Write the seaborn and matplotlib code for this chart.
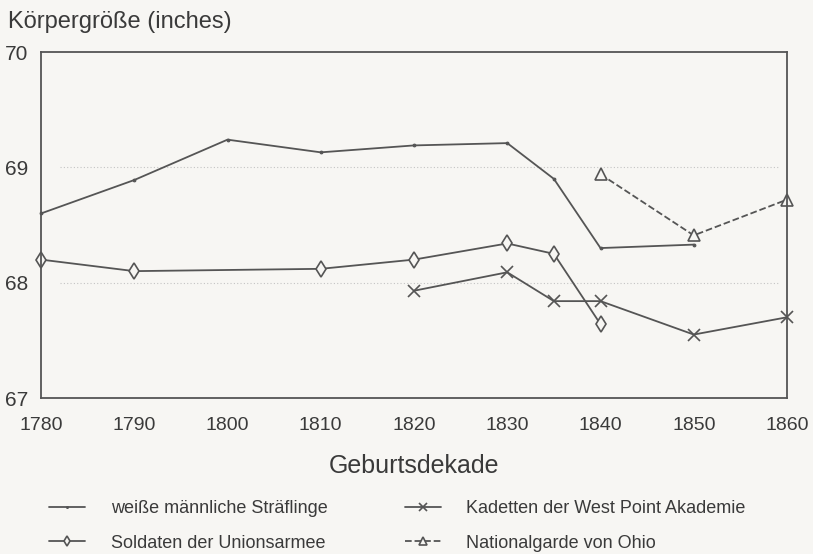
import matplotlib
matplotlib.use("Agg")
import matplotlib.pyplot as plt
import seaborn as sns
import pandas as pd

# Werte
jahre_straeflinge = [1780, 1790, 1800, 1810, 1820, 1830, 1835, 1840, 1850]
werte_straeflinge = [68.60, 68.89, 69.24, 69.13, 69.19, 69.21, 68.90, 68.30, 68.33]

jahre_soldaten = [1780, 1790, 1810, 1820, 1830, 1835, 1840]
werte_soldaten = [68.20, 68.10, 68.12, 68.20, 68.34, 68.25, 67.64]

jahre_kadetten = [1820, 1830, 1835, 1840, 1850, 1860]
werte_kadetten = [67.93, 68.09, 67.84, 67.84, 67.55, 67.70]

jahre_ohio = [1840, 1850, 1860]
werte_ohio = [68.94, 68.41, 68.72]

xticks = [1780, 1790, 1800, 1810, 1820, 1830, 1840, 1850, 1860]
yticks = [67, 68, 69, 70]

sns.set_style("white")
plt.rcParams['font.family'] = ['Liberation Sans', 'DejaVu Sans']

grau = '#555555'
text_grau = '#3a3a3a'
bg = '#f7f6f3'

fig = plt.figure(figsize=(8.13, 5.54), dpi=100, facecolor=bg)
ax = fig.add_axes([41 / 813, 1 - 398 / 554, 746 / 813, 346 / 554])
ax.set_facecolor(bg)

# schwache gepunktete Hilfslinien bei 68 und 69
for yv in [68, 69]:
    ax.plot([1782, 1859], [yv, yv], color='#c4c4c4', linestyle=(0, (1, 2)), linewidth=0.8, zorder=1)

df1 = pd.DataFrame({'jahr': jahre_straeflinge, 'wert': werte_straeflinge})
df2 = pd.DataFrame({'jahr': jahre_soldaten, 'wert': werte_soldaten})
df3 = pd.DataFrame({'jahr': jahre_kadetten, 'wert': werte_kadetten})
df4 = pd.DataFrame({'jahr': jahre_ohio, 'wert': werte_ohio})

gemeinsam = dict(ax=ax, color=grau, linewidth=1.3, markeredgecolor=grau, clip_on=False)

sns.lineplot(data=df1, x='jahr', y='wert', marker='.', markersize=4,
             label='weiße männliche Sträflinge', **gemeinsam)
sns.lineplot(data=df2, x='jahr', y='wert', marker='d', markersize=8, markerfacecolor=bg,
             markeredgewidth=1.2, label='Soldaten der Unionsarmee', **gemeinsam)
sns.lineplot(data=df3, x='jahr', y='wert', marker='x', markersize=8, markeredgewidth=1.2,
             label='Kadetten der West Point Akademie', **gemeinsam)
sns.lineplot(data=df4, x='jahr', y='wert', linestyle='--', marker='^', markersize=8,
             markerfacecolor=bg, markeredgewidth=1.2, label='Nationalgarde von Ohio', **gemeinsam)

ax.set_xlim(1780, 1860)
ax.set_ylim(67, 70)
ax.set_xticks(xticks)
ax.set_yticks(yticks)
ax.set_xticklabels([str(t) for t in xticks], fontsize=14, color=text_grau)
ax.set_yticklabels([str(t) for t in yticks], fontsize=15, color=text_grau)
ax.tick_params(direction='in', length=7, width=1.2, color=grau, pad=9)
ax.tick_params(axis='x', pad=14)
for s in ax.spines.values():
    s.set_color(grau)
    s.set_linewidth(1.3)

ax.set_xlabel('Geburtsdekade', fontsize=18, color=text_grau, labelpad=14)
ax.set_ylabel('')
fig.text(8 / 813, 1 - 22 / 554, 'Körpergröße (inches)', fontsize=17, color=text_grau,
         va='center', ha='left')

handles, labels = ax.get_legend_handles_labels()
ax.get_legend().remove()
fig.legend(handles, labels, ncol=2,
           loc='lower left', bbox_to_anchor=(33 / 813, -0.025), frameon=False,
           fontsize=13, labelcolor=text_grau, handlelength=2.0, handletextpad=1.4,
           columnspacing=4.3, markerscale=0.7, labelspacing=0.95)

plt.savefig('out.png', dpi=100, facecolor=bg)
plt.close()
